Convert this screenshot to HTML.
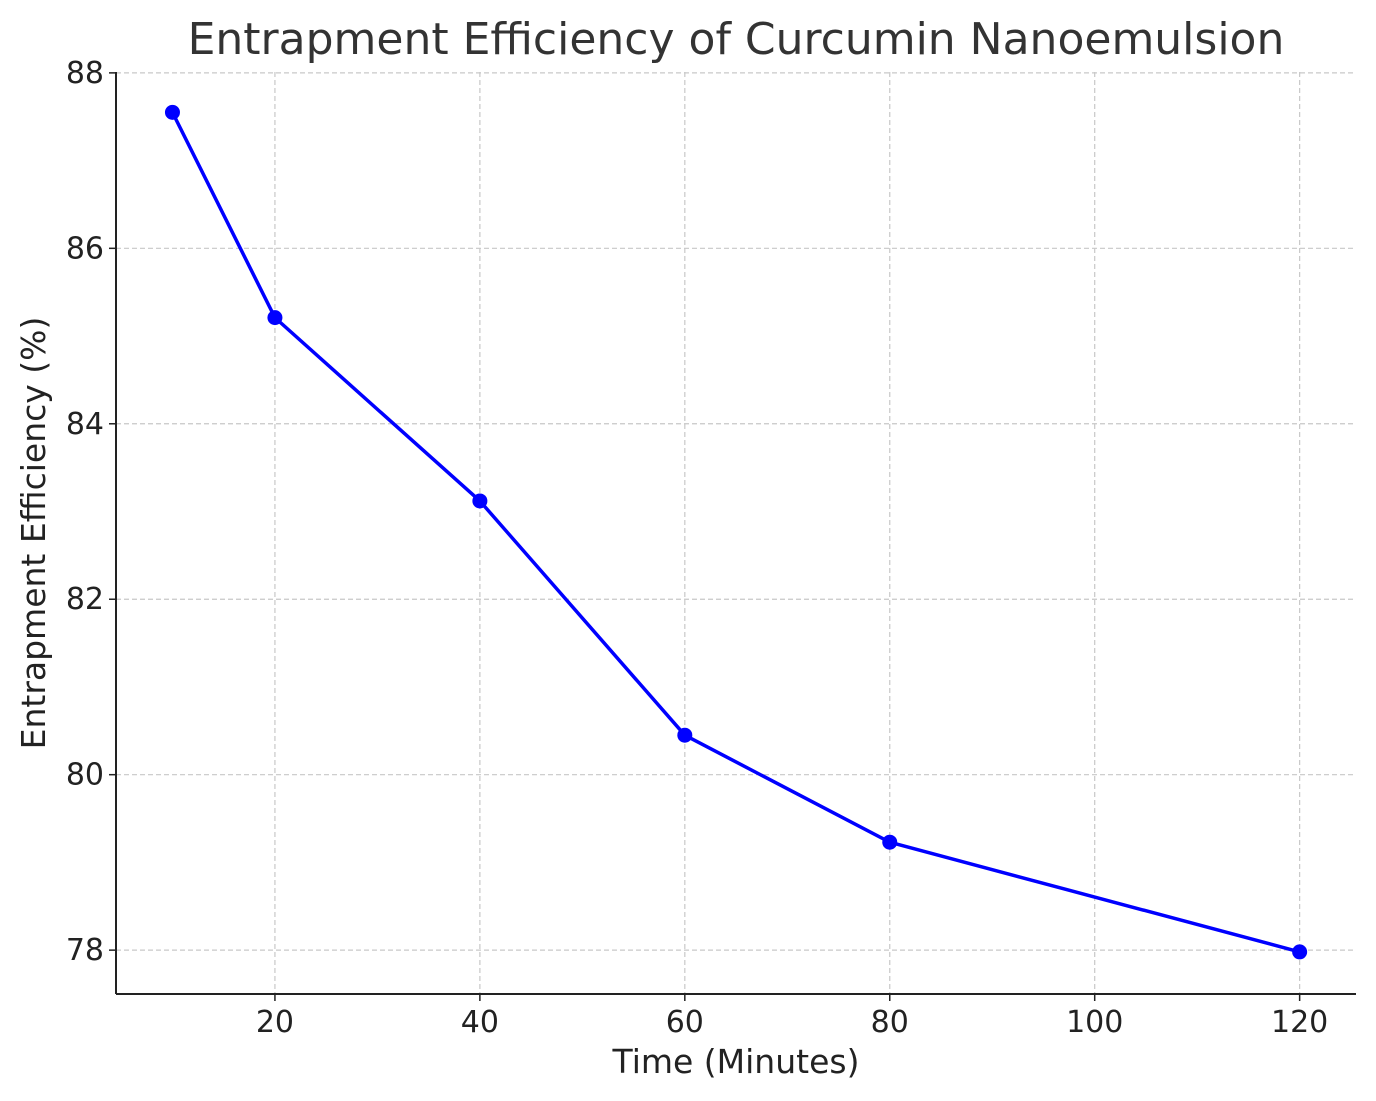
<!DOCTYPE html>
<html>
<head>
<meta charset="utf-8">
<style>
html,body{margin:0;padding:0;background:#fff;}
svg{display:block;font-family:"DejaVu Sans","Liberation Sans",sans-serif;}
</style>
</head>
<body>
<svg id="chart" width="1376" height="1101" viewBox="0 0 1376 1101" xmlns="http://www.w3.org/2000/svg">
<text x="736" y="54" text-anchor="middle" font-size="44" fill="#333">Entrapment Efficiency of Curcumin Nanoemulsion</text>
<g id="grid"></g>
<g id="axes"></g>
<g id="series"></g>
<text x="736" y="1073" text-anchor="middle" font-size="33" fill="#222">Time (Minutes)</text>
<text transform="translate(45,533) rotate(-90)" text-anchor="middle" font-size="33" fill="#222">Entrapment Efficiency (%)</text>
</svg>
<script>
const times = [10, 20, 40, 60, 80, 120];
const efficiency = [87.55, 85.21, 83.12, 80.45, 79.23, 77.98];
const xTicks = [20, 40, 60, 80, 100, 120];
const yTicks = [78, 80, 82, 84, 86, 88];

const L = 116, R = 1356, T = 72, B = 994;
const xMin = 4.49, xMax = 125.5, yMin = 77.5, yMax = 88.01;
function xs(v){ return L + (v - xMin) / (xMax - xMin) * (R - L); }
function ys(v){ return B - (v - yMin) / (yMax - yMin) * (B - T); }

const NS = "http://www.w3.org/2000/svg";
function mk(tag, attrs, parent){
  const e = document.createElementNS(NS, tag);
  for (const k in attrs) e.setAttribute(k, attrs[k]);
  parent.appendChild(e);
  return e;
}
const grid = document.getElementById('grid');
const axes = document.getElementById('axes');
const series = document.getElementById('series');

xTicks.forEach(t => {
  const x = xs(t);
  const g = mk('line', {x1:x, x2:x, y1:T, y2:B, stroke:'#c8c8c8', 'stroke-width':1.2, 'stroke-dasharray':'5,3'}, grid);
  
  
  const tk = mk('line', {x1:x, x2:x, y1:B, y2:B+7, stroke:'#222', 'stroke-width':1.5}, axes);
  
  
  const lb = mk('text', {x:x, y:B+38, 'text-anchor':'middle', 'font-size':30, fill:'#222'}, axes);
  lb.textContent = t;
  
  
});
yTicks.forEach(t => {
  const y = ys(t);
  const g = mk('line', {x1:L, x2:R, y1:y, y2:y, stroke:'#c8c8c8', 'stroke-width':1.2, 'stroke-dasharray':'5,3'}, grid);
  
  
  const tk = mk('line', {x1:L-7, x2:L, y1:y, y2:y, stroke:'#222', 'stroke-width':1.5}, axes);
  
  
  const lb = mk('text', {x:L-12, y:y+10, 'text-anchor':'end', 'font-size':30, fill:'#222'}, axes);
  lb.textContent = t;
  
  
});
const sl = mk('line', {x1:L, x2:L, y1:T, y2:B, stroke:'#222', 'stroke-width':2}, axes);


const sb = mk('line', {x1:L, x2:R, y1:B, y2:B, stroke:'#222', 'stroke-width':2}, axes);



const pts = times.map((t, i) => xs(t) + ',' + ys(efficiency[i])).join(' ');
const line = mk('polyline', {points:pts, fill:'none', stroke:'#0000ff', 'stroke-width':3.5, 'stroke-linejoin':'round'}, series);


times.forEach((t, i) => {
  const c = mk('circle', {cx:xs(t), cy:ys(efficiency[i]), r:7.5, fill:'#0000ff'}, series);
  
  
});
</script>
</body>
</html>
